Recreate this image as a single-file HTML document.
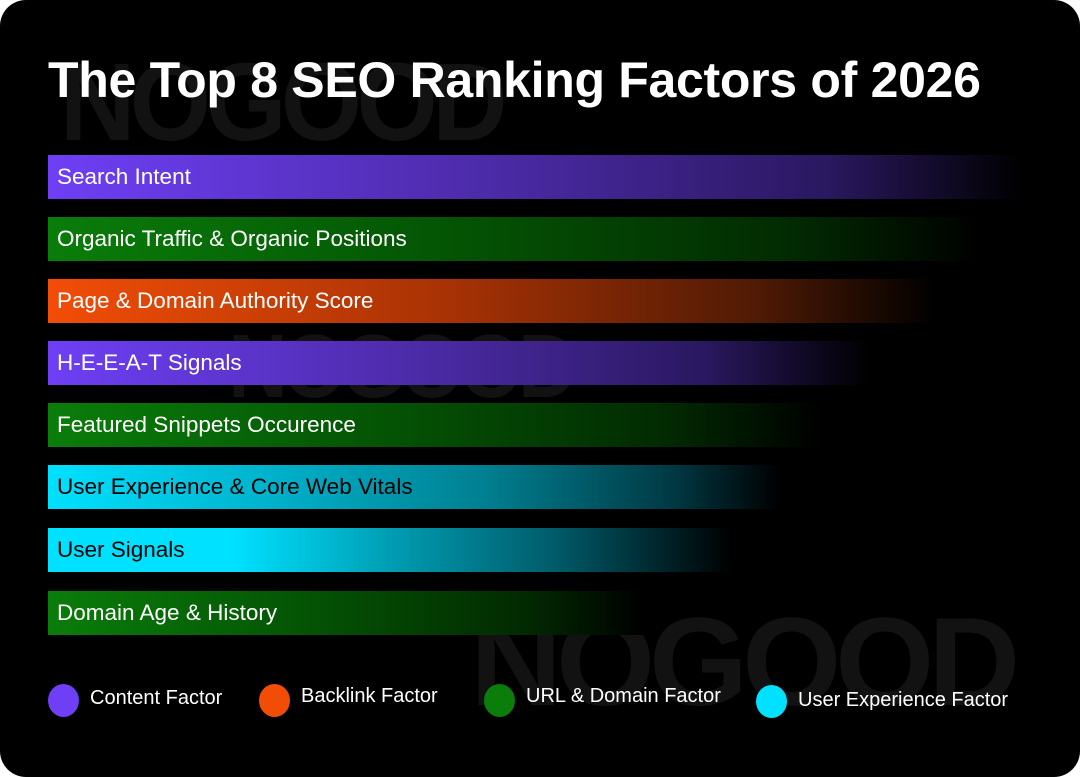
<!DOCTYPE html>
<html><head><style>
html,body{margin:0;padding:0;background:#fff;}
#c{position:relative;width:1080px;height:777px;background:#000;border-radius:26px;overflow:hidden;font-family:"Liberation Sans",sans-serif;}
.wm{position:absolute;color:#121212;font-weight:900;font-family:"Liberation Sans",sans-serif;letter-spacing:-6px;transform-origin:left top;line-height:1;}
h1{position:absolute;left:48px;top:52px;margin:0;color:#fff;font-size:50px;font-weight:bold;letter-spacing:-0.3px;line-height:56px;}
.bar{position:absolute;left:48px;height:44px;color:#fff;font-size:22.5px;line-height:44px;padding-left:9px;box-sizing:border-box;white-space:nowrap;}
.leg{position:absolute;font-size:20px;color:#fff;}
.dot{position:absolute;width:31px;height:33px;border-radius:50%;}
</style></head><body>
<div id="c">
<div class="wm" style="left:60px;top:48px;font-size:110px;transform:scaleX(0.95)">NOGOOD</div>
<div class="wm" style="left:228px;top:322px;font-size:90px;transform:scaleX(0.92)">NOGOOD</div>
<div class="wm" style="left:470px;top:600px;font-size:125px;transform:scaleX(1.02)">NOGOOD</div>
<h1>The Top 8 SEO Ranking Factors of 2026</h1>
<div class="bar" style="top:155px;width:974px;background:linear-gradient(90deg,#6e3ff5 0%,#4c2ba8 45%,#2a1860 80%,#000 100%)">Search Intent</div>
<div class="bar" style="top:217px;width:930px;background:linear-gradient(90deg,#0a7d0a 0%,#045204 45%,#022a02 80%,#000 100%)">Organic Traffic &amp; Organic Positions</div>
<div class="bar" style="top:279px;width:887px;background:linear-gradient(90deg,#f24d07 0%,#a83205 45%,#4f1a05 80%,#000 100%)">Page &amp; Domain Authority Score</div>
<div class="bar" style="top:341px;width:820px;background:linear-gradient(90deg,#6e3ff5 0%,#4c2ba8 45%,#2a1860 80%,#000 100%)">H-E-E-A-T Signals</div>
<div class="bar" style="top:403px;width:772px;background:linear-gradient(90deg,#0a7d0a 0%,#045204 45%,#022a02 80%,#000 100%)">Featured Snippets Occurence</div>
<div class="bar" style="top:465px;width:732px;color:#000;background:linear-gradient(90deg,#00e1ff 0%,#00b2cc 30%,#007f90 60%,#003a44 85%,#000 100%)">User Experience &amp; Core Web Vitals</div>
<div class="bar" style="top:528px;width:685px;color:#000;background:linear-gradient(90deg,#00e1ff 0%,#00e1ff 27%,#009db3 50%,#005866 75%,#000 100%)">User Signals</div>
<div class="bar" style="top:591px;width:595px;background:linear-gradient(90deg,#0a7d0a 0%,#045204 45%,#022a02 80%,#000 100%)">Domain Age &amp; History</div>
<div class="dot" style="left:48px;top:684px;background:#6e3ff5"></div><div class="leg" style="left:90px;top:687px">Content Factor</div>
<div class="dot" style="left:259px;top:684px;background:#f24d07"></div><div class="leg" style="left:301px;top:685px">Backlink Factor</div>
<div class="dot" style="left:484px;top:684px;background:#0a7d0a"></div><div class="leg" style="left:526px;top:685px">URL &amp; Domain Factor</div>
<div class="dot" style="left:756px;top:685px;background:#00e1ff"></div><div class="leg" style="left:798px;top:689px">User Experience Factor</div>
</div>
</body></html>
